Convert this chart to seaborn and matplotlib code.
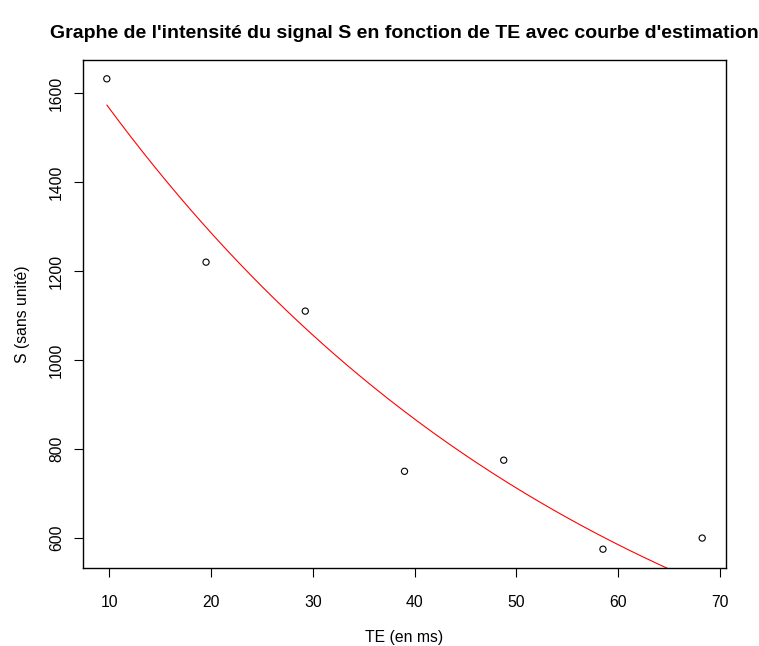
import numpy as np
import pandas as pd
import matplotlib
matplotlib.use("Agg")
import matplotlib.pyplot as plt
import seaborn as sns

# Data
te_values = [9.75, 19.5, 29.25, 39.0, 48.75, 58.5, 68.25]
s_values = [1632, 1220, 1110, 750, 775, 575, 600]

# Estimated exponential decay model parameters
fit_s0 = 1906.0
fit_t2 = 50.8

x_ticks = [10, 20, 30, 40, 50, 60, 70]
y_ticks = [600, 800, 1000, 1200, 1400, 1600]

title = "Graphe de l'intensité du signal S en fonction de TE avec courbe d'estimation"
x_label = "TE (en ms)"
y_label = "S (sans unité)"

sns.set_theme(style="white")
plt.rcParams['font.family'] = ['Liberation Sans', 'DejaVu Sans']

W, H = 759, 646
fig = plt.figure(figsize=(W/100, H/100), dpi=100)
L, R, T, B = 83, 726, 60, 568
ax = fig.add_axes([L/W, 1-B/H, (R-L)/W, (B-T)/H])

df = pd.DataFrame({"TE": te_values, "S": s_values})
te_grid = np.linspace(min(te_values), max(te_values), 200)
curve = pd.DataFrame({"TE": te_grid, "S": fit_s0*np.exp(-te_grid/fit_t2)})

sns.lineplot(data=curve, x="TE", y="S", ax=ax, color="red", linewidth=0.8)
sns.scatterplot(data=df, x="TE", y="S", ax=ax, marker="o", s=20,
                facecolor="none", edgecolor="black", linewidth=0.8, zorder=3)

xr = max(te_values) - min(te_values)
yr = max(s_values) - min(s_values)
ax.set_xlim(min(te_values) - 0.04*xr, max(te_values) + 0.04*xr)
ax.set_ylim(min(s_values) - 0.04*yr, max(s_values) + 0.04*yr)

ax.set_xticks(x_ticks)
ax.set_yticks(y_ticks)
ax.set_xticklabels([str(v) for v in x_ticks], fontsize=11.3, color="black")
ax.set_yticklabels([str(v) for v in y_ticks], fontsize=11.3, rotation=90, va="center", color="black")
ax.tick_params(axis="both", direction="out", length=6.5, width=0.8, color="black",
               bottom=True, left=True)
ax.tick_params(axis="x", pad=13)
ax.tick_params(axis="y", pad=7)
for sp in ax.spines.values():
    sp.set_color("black")
    sp.set_linewidth(1.0)

ax.set_xlabel(x_label, fontsize=11.3, labelpad=14.5, color="black")
ax.set_ylabel(y_label, fontsize=11.3, labelpad=14, color="black")
fig.suptitle(title, fontsize=14, fontweight="bold", x=404/W, y=1-33/H, va="center", color="black")

fig.savefig("out.png", dpi=100)
